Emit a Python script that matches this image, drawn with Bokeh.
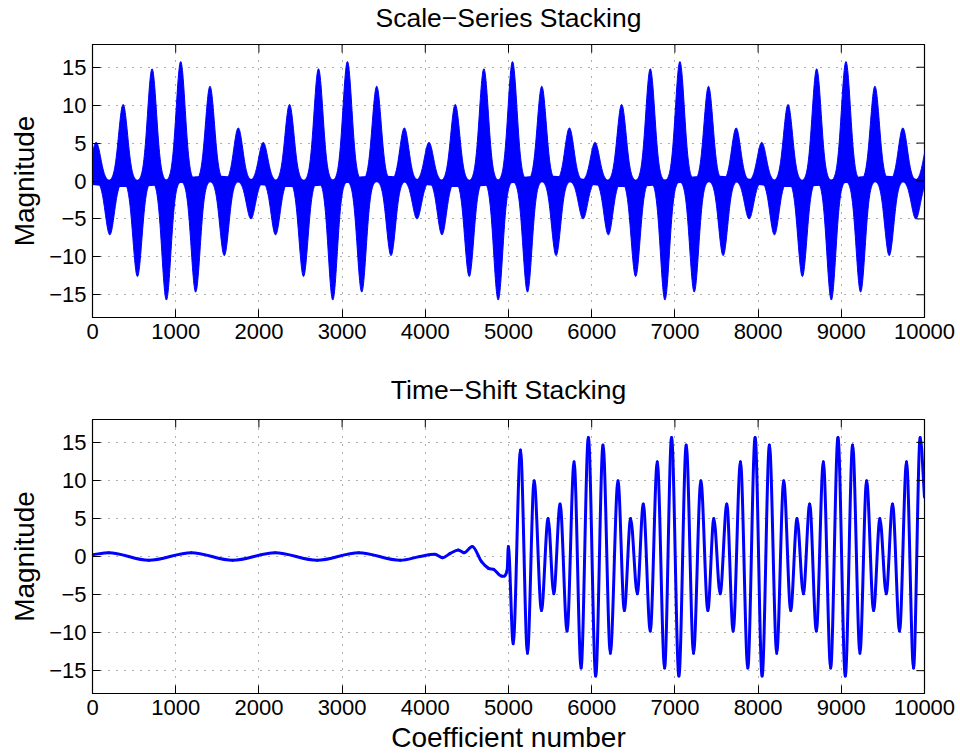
import numpy as np
from bokeh.plotting import figure
from bokeh.models import Range1d, FixedTicker
from bokeh.core.properties import value
from bokeh.layouts import column
from bokeh.embed import file_html
from bokeh.resources import INLINE

# ---------------- data ----------------
# Top panel: centres and peak values of the dense lobes
lobe_x = [44, 208, 368, 540, 716, 888, 1060, 1240, 1412, 1584, 1752, 1904,
          2052, 2200, 2368, 2536, 2716, 2888, 3064, 3236, 3416, 3588, 3748, 3900,
          4044, 4200, 4360, 4528, 4704, 4876, 5048, 5228, 5400, 5572, 5732, 5896,
          6040, 6200, 6360, 6528, 6704, 6880, 7060, 7232, 7404, 7580, 7736, 7892,
          8044, 8196, 8360, 8532, 8704, 8880, 9056, 9232, 9404, 9576, 9740, 9896,
          10044]
lobe_peak = [5.1, -7.1, 10.1, -12.6, 14.8, -15.7, 15.75, -14.65, 12.5, -9.84, 7.0, -5.0,
             5.1, -7.1, 10.1, -12.6, 14.8, -15.7, 15.75, -14.65, 12.5, -9.84, 7.0, -5.0,
             5.1, -7.1, 10.1, -12.6, 14.8, -15.7, 15.75, -14.65, 12.5, -9.84, 7.0, -5.0,
             5.1, -7.1, 10.1, -12.6, 14.8, -15.7, 15.75, -14.65, 12.5, -9.84, 7.0, -5.0,
             5.1, -7.1, 10.1, -12.6, 14.8, -15.7, 15.75, -14.65, 12.5, -9.84, 7.0, -5.0,
             5.1]
# Top panel: slow drift of the thin band around zero
band_x = [0, 250, 500, 750, 1000, 1250, 1500, 1750, 2000, 2250, 2500, 2750, 3000,
          3250, 3500, 3750, 4000, 4250, 4500, 4750, 5000, 5250, 5500, 5750, 6000,
          6250, 6500, 6750, 7000, 7250, 7500, 7750, 8000, 8250, 8500, 8750, 9000,
          9250, 9500, 9750, 10000]
band_y = [-0.2, -0.45, -0.45, -0.3, 0.0, 0.3, 0.4, 0.2,
          -0.2, -0.45, -0.45, -0.3, 0.0, 0.3, 0.4, 0.2,
          -0.2, -0.45, -0.45, -0.3, 0.0, 0.3, 0.4, 0.2,
          -0.2, -0.45, -0.45, -0.3, 0.0, 0.3, 0.4, 0.2,
          -0.2, -0.45, -0.45, -0.3, 0.0, 0.3, 0.4, 0.2,
          -0.2]

# Bottom panel: turning points of the time-shift curve
ts_x = [0, 196, 676, 1188, 1684, 2196, 2700, 3200, 3700, 3936, 4116, 4208, 4296, 4396,
        4464, 4564, 4676, 4760, 4824, 4916, 4984, 4998,
        5056, 5144, 5228, 5308, 5396, 5476, 5544, 5620, 5704, 5788, 5872, 5960,
        6048, 6136, 6224, 6316, 6392, 6468, 6548, 6620, 6704, 6788, 6876, 6960,
        7048, 7136, 7224, 7312, 7396, 7468, 7544, 7624, 7700, 7788, 7876, 7964,
        8048, 8136, 8224, 8308, 8392, 8468, 8544, 8620, 8700, 8784, 8872, 8960,
        9048, 9136, 9224, 9304, 9388, 9464, 9540, 9616, 9700, 9784, 9868, 9948,
        10000]
ts_y = [0.24, 0.5, -0.5, 0.5, -0.5, 0.5, -0.5, 0.5, -0.5, 0.0, 0.29, -0.15, 0.37, 0.86,
        0.5, 1.3, -0.68, -1.56, -1.7, -2.57, -1.8, 1.3,
        -11.45, 14.0, -12.7, 9.95, -7.1, 5.0, -4.9, 6.9, -9.8, 12.45, -14.65, 15.65,
        -15.7, 14.65, -12.7, 9.95, -7.1, 5.0, -4.9, 6.9, -9.8, 12.45, -14.65, 15.65,
        -15.7, 14.65, -12.7, 9.95, -7.1, 5.0, -4.9, 6.9, -9.8, 12.45, -14.65, 15.65,
        -15.7, 14.65, -12.7, 9.95, -7.1, 5.0, -4.9, 6.9, -9.8, 12.45, -14.65, 15.65,
        -15.7, 14.65, -12.7, 9.95, -7.1, 5.0, -4.9, 6.9, -9.8, 12.45, -14.65, 15.65,
        7.8]

x_ticks = [0, 1000, 2000, 3000, 4000, 5000, 6000, 7000, 8000, 9000, 10000]
x_tick_labels = ["0", "1000", "2000", "3000", "4000", "5000", "6000", "7000",
                 "8000", "9000", "10000"]
y_ticks = [-15, -10, -5, 0, 5, 10, 15]
y_tick_labels = ["\u221215", "\u221210", "\u22125", "0", "5", "10", "15"]

titles = ["Scale\u2212Series Stacking", "Time\u2212Shift Stacking"]
y_label = "Magnitude"
x_label = "Coefficient number"

# ---------------- styling ----------------
FONT = "Liberation Sans"
BLUE = "#0000ff"
X0, X1, Y0, Y1 = 0, 10000, -18, 18
LEFT, RIGHT = 92, 36
FRAME_W = 832
TICK_PX = 8


def text_strip(text, height, text_y, size):
    """A thin, axis-less strip, aligned with the plot frames, carrying one line of text."""
    s = figure(frame_width=FRAME_W, frame_height=height,
               x_range=Range1d(X0, X1), y_range=Range1d(0, height),
               output_backend="svg", toolbar_location=None,
               x_axis_location=None, y_axis_location=None,
               min_border_left=LEFT, min_border_right=RIGHT,
               min_border_top=0, min_border_bottom=0)
    s.grid.visible = False
    s.outline_line_color = None
    s.background_fill_color = "white"
    s.border_fill_color = "white"
    s.text(x=[(X0 + X1) / 2], y=[text_y], text=[text],
           text_align="center", text_baseline="alphabetic",
           text_font=value(FONT), text_font_size=size, text_color="black")
    return s


def style_axis(ax, ticks, labels):
    ax.ticker = FixedTicker(ticks=ticks)
    ax.major_label_overrides = {t: l for t, l in zip(ticks, labels)}
    ax.major_tick_in = TICK_PX
    ax.major_tick_out = 0
    ax.major_tick_line_color = "black"
    ax.major_tick_line_width = 1
    ax.minor_tick_line_color = None
    ax.axis_line_color = "black"
    ax.axis_line_width = 1
    ax.major_label_text_font = FONT
    ax.major_label_text_color = "black"
    ax.major_label_text_font_size = "22px"
    ax.major_label_standoff = 6
    ax.axis_label_text_font = FONT
    ax.axis_label_text_font_style = "normal"
    ax.axis_label_text_font_size = "28px"
    ax.axis_label_text_color = "black"


def make_fig(min_bottom, frame_h):
    p = figure(frame_width=FRAME_W, frame_height=frame_h,
               x_range=Range1d(X0, X1), y_range=Range1d(Y0, Y1),
               output_backend="svg", toolbar_location=None,
               min_border_left=LEFT, min_border_right=RIGHT,
               min_border_top=2, min_border_bottom=min_bottom)
    p.background_fill_color = "white"
    p.border_fill_color = "white"
    p.outline_line_color = "black"
    p.outline_line_width = 1.2
    style_axis(p.below[0], x_ticks, x_tick_labels)
    style_axis(p.left[0], y_ticks, y_tick_labels)
    p.left[0].axis_label = y_label
    p.left[0].axis_label_standoff = 6
    for g, t in ((p.xgrid[0], x_ticks), (p.ygrid[0], y_ticks)):
        g.ticker = FixedTicker(ticks=t)
        g.grid_line_color = "#333333"
        g.grid_line_alpha = 0.8
        g.grid_line_dash = "1 7"
        g.grid_line_width = 1
    # inward tick marks on the top and right edges of the box
    ty = TICK_PX * (Y1 - Y0) / frame_h
    tx = TICK_PX * (X1 - X0) / FRAME_W
    p.segment(x0=x_ticks, y0=[Y1] * len(x_ticks), x1=x_ticks, y1=[Y1 - ty] * len(x_ticks),
              line_color="black", line_width=1, level="overlay")
    p.segment(x0=[X1] * len(y_ticks), y0=y_ticks, x1=[X1 - tx] * len(y_ticks), y1=y_ticks,
              line_color="black", line_width=1, level="overlay")
    return p


# ---------------- top panel ----------------
t1 = text_strip(titles[0], 42, 24.6, "26.5px")
p1 = make_fig(53, 273)
HALF = 170.0   # half extent of a lobe drawing (styling)
SIG = 54.0     # lobe shape width (styling)
BASE = 0.1     # lobes are closed just across zero
u = np.linspace(-1.0, 1.0, 81)
xs, ys = [], []
for c, pk in zip(lobe_x, lobe_peak):
    dx = HALF * u
    edge = pk * np.exp(-(dx ** 2) / (2 * SIG ** 2))
    back = -np.sign(pk) * BASE
    xs.append(list(c + dx) + [c + HALF, c - HALF])
    ys.append(list(edge) + [back, back])
p1.patches(xs, ys, fill_color=BLUE, line_color=BLUE, line_width=1)
p1.line(band_x, band_y, line_color=BLUE, line_width=5)

# ---------------- bottom panel ----------------
t2 = text_strip(titles[1], 47, 27.7, "26.5px")
p2 = make_fig(32, 274)

n = len(ts_x)
slopes = []
for i in range(n):
    if i == 0:
        slopes.append((ts_y[1] - ts_y[0]) / (ts_x[1] - ts_x[0]))
    elif i == n - 1:
        slopes.append((ts_y[-1] - ts_y[-2]) / (ts_x[-1] - ts_x[-2]))
    else:
        a = ts_y[i] - ts_y[i - 1]
        b = ts_y[i + 1] - ts_y[i]
        if a * b <= 0:
            slopes.append(0.0)
        else:
            slopes.append((ts_y[i + 1] - ts_y[i - 1]) / (ts_x[i + 1] - ts_x[i - 1]))

x0, y0, x1, y1, cx0, cy0, cx1, cy1 = [], [], [], [], [], [], [], []
for i in range(n - 1):
    d = ts_x[i + 1] - ts_x[i]
    x0.append(ts_x[i]); y0.append(ts_y[i])
    x1.append(ts_x[i + 1]); y1.append(ts_y[i + 1])
    cx0.append(ts_x[i] + d / 3.0); cy0.append(ts_y[i] + slopes[i] * d / 3.0)
    cx1.append(ts_x[i + 1] - d / 3.0); cy1.append(ts_y[i + 1] - slopes[i + 1] * d / 3.0)
p2.bezier(x0=x0, y0=y0, x1=x1, y1=y1, cx0=cx0, cy0=cy0, cx1=cx1, cy1=cy1,
          line_color=BLUE, line_width=3, line_cap="round")

xl = text_strip(x_label, 28, 15.7, "28px")

layout = column(t1, p1, t2, p2, xl, spacing=0)
open("out.html", "w").write(file_html(layout, INLINE))
